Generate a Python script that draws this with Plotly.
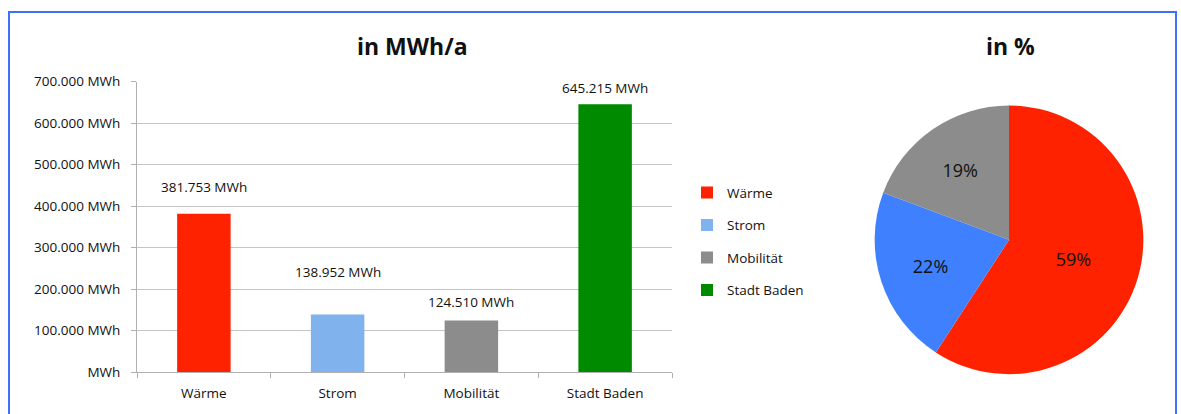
import plotly.graph_objects as go

categories = ["Wärme", "Strom", "Mobilität", "Stadt Baden"]
values_mwh = [381753, 138952, 124510, 645215]
value_labels = ["381.753 MWh", "138.952 MWh", "124.510 MWh", "645.215 MWh"]
bar_colors = ["#ff2200", "#80b2ee", "#8c8c8c", "#008a00"]
# how far above each bar top its value label sits (px), as placed in the original
label_lift = [27, 42, 18, 16]

pie_labels = ["Wärme", "Strom", "Mobilität"]
pie_values = [381753, 138952, 124510]
pie_colors = ["#ff2200", "#3f80ff", "#8c8c8c"]

tick_vals = [0, 100000, 200000, 300000, 400000, 500000, 600000, 700000]
tick_text = ["MWh", "100.000 MWh", "200.000 MWh", "300.000 MWh",
             "400.000 MWh", "500.000 MWh", "600.000 MWh", "700.000 MWh"]

W, H = 1181, 414
FONT = "Open Sans"
TXT = "#111111"


# the page ends up drawn about 8px down and ~398px tall, so map pixel rows to paper y
def py(y):
    return 1 - (y - 8) / 398


def px(x):
    return x / W


fig = go.Figure()

for i, cat in enumerate(categories):
    fig.add_trace(go.Bar(
        x=[cat], y=[values_mwh[i]],
        name=cat, legendgroup=cat,
        marker=dict(color=bar_colors[i], line=dict(width=0)),
        width=0.4, hoverinfo="x+y",
    ))

fig.add_trace(go.Pie(
    labels=pie_labels, values=pie_values,
    marker=dict(colors=pie_colors, line=dict(width=0)),
    sort=False, direction="clockwise", rotation=0,
    texttemplate="%{percent:.0%}", textposition="inside",
    insidetextfont=dict(size=18, color=TXT),
    showlegend=False, hoverinfo="label+value",
    domain=dict(x=[px(874), px(1144)], y=[py(375), py(105)]),
))

annotations = [
    dict(text="<b>in MWh/a</b>", x=px(412), y=py(45), xref="paper", yref="paper",
         xanchor="center", yanchor="middle", showarrow=False, font=dict(size=23, color=TXT)),
    dict(text="<b>in %</b>", x=px(1010), y=py(45), xref="paper", yref="paper",
         xanchor="center", yanchor="middle", showarrow=False, font=dict(size=23, color=TXT)),
]
for i, cat in enumerate(categories):
    annotations.append(dict(
        text=value_labels[i], x=cat, y=values_mwh[i], xref="x", yref="y",
        xanchor="center", yanchor="middle", yshift=label_lift[i],
        showarrow=False, font=dict(size=13.5, color=TXT),
    ))

fig.update_layout(
    width=W, height=H,
    margin=dict(l=0, r=0, t=0, b=0),
    paper_bgcolor="white", plot_bgcolor="white",
    font=dict(family=FONT, size=13.5, color=TXT),
    barmode="overlay",
    showlegend=True,
    legend=dict(x=px(687), y=py(177), xanchor="left", yanchor="top",
                traceorder="grouped", tracegroupgap=12,
                font=dict(size=13.5), itemwidth=30),
    xaxis=dict(domain=[px(137), px(672)], categoryorder="array", categoryarray=categories,
               showline=True, linecolor="#b0b0b0", linewidth=1,
               ticks="outside", tickson="boundaries", ticklen=5, tickcolor="#b0b0b0",
               ticklabelstandoff=9, tickfont=dict(size=13.5), showgrid=False),
    yaxis=dict(domain=[py(373), py(81)], range=[0, 700000],
               tickvals=tick_vals, ticktext=tick_text,
               showline=True, linecolor="#b0b0b0", linewidth=1,
               gridcolor="#c4c4c4", gridwidth=1,
               ticks="outside", ticklen=5, tickcolor="#b0b0b0",
               ticklabelstandoff=8, tickfont=dict(size=13.5), zeroline=False),
    annotations=annotations,
    shapes=[
        dict(type="rect", xref="paper", yref="paper",
             x0=px(9), x1=px(1176), y0=-0.2, y1=py(11),
             line=dict(color="#3f6fff", width=2)),
    ],
)

fig.write_html("out.html", config={"displayModeBar": False},
               post_script="document.body.style.margin='0';document.body.style.overflow='hidden';")
